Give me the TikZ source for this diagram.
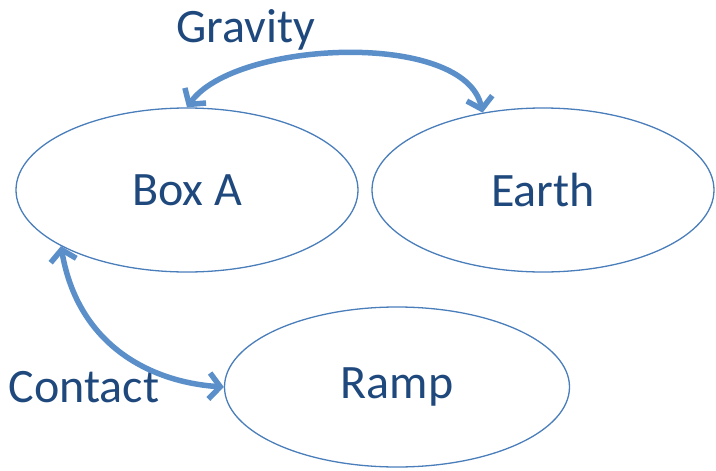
\documentclass[tikz,border=0pt]{standalone}
\usepackage{fontspec}
\setmainfont{Carlito}
\usetikzlibrary{shapes.geometric,arrows.meta}
\definecolor{txtblue}{HTML}{1F497D}
\definecolor{linblue}{HTML}{4A7EBB}
\definecolor{arrblue}{HTML}{5B8FC9}
\tikzset{
  oval/.style={ellipse, draw=linblue, line width=1.3pt, inner sep=0pt,
    minimum width=342pt, minimum height=164pt, text=txtblue,
    font=\fontsize{48}{52}\selectfont},
  lbl/.style={text=txtblue, inner sep=0pt, font=\fontsize{48}{52}\selectfont},
  rel/.style={draw=arrblue, line width=5.5pt,
    {Straight Barb[length=11pt,width=26pt]}-{Straight Barb[length=11pt,width=26pt]}}
}
\begin{document}
\begin{tikzpicture}[x=1pt,y=-1pt]
\useasboundingbox (0,0) rectangle (716,471);
\node[oval] (boxa) at (187,190) {Box A};
\node[oval] (earth) at (543,190) {Earth};
\node[oval, minimum width=345pt, minimum height=160pt] (ramp) at (397,387) {Ramp};
\node[lbl] (grav) at (246,30) {Gravity};
\node[lbl] (cont) at (84,387) {Contact};
\draw[rel] (boxa.north) .. controls (235,40) and (465,30) .. (earth.128);
\draw[rel] (boxa.204) .. controls (78,345) and (150,382) .. (ramp.west);
\end{tikzpicture}
\end{document}
